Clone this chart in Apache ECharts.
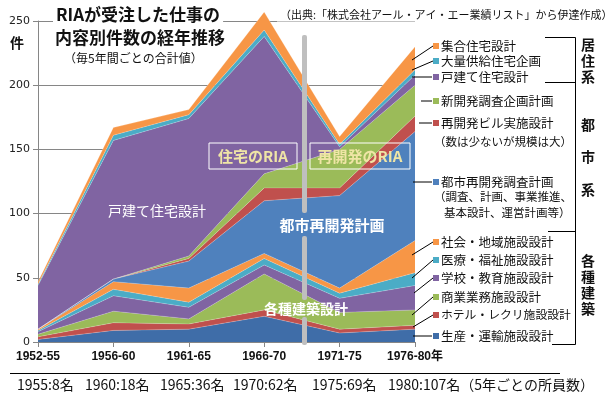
<!DOCTYPE html>
<html lang="ja">
<head>
<meta charset="UTF-8">
<title>RIAが受注した仕事の内容別件数の経年推移</title>
<script src="https://cdn.jsdelivr.net/npm/echarts@6/dist/echarts.min.js"></script>
<style>
  html, body { margin: 0; padding: 0; background: #fff; }
  #main { width: 607px; height: 398px; }
</style>
</head>
<body>
<div id="main"></div>
<script>
// 期間
var categories = ['1952-55', '1956-60', '1961-65', '1966-70', '1971-75', '1976-80年'];
// 各種建築（下から）
var seisan = [2, 9, 10, 20, 7, 10];        // 生産・運輸施設設計
var hotel = [2, 6, 4, 5, 3, 3];            // ホテル・レクリ施設設計
var shogyo = [2, 9, 4, 28, 13, 12];        // 商業業務施設設計
var gakko = [2, 12, 9, 7, 11, 19];         // 学校・教育施設設計
var iryo = [1, 5, 4, 5, 4, 10];            // 医療・福祉施設設計
var shakai = [1, 6, 11, 4, 4, 25];         // 社会・地域施設設計
// 都市系
var toshi = [0, 2, 21, 41, 72, 85];        // 都市再開発調査計画
var saikaihatsu = [0, 0, 2, 10, 6, 12];    // 再開発ビル実施設計
var shinkaihatsu = [0, 0, 2, 11, 30, 24];  // 新開発調査企画計画
// 居住系
var kodate = [34, 108, 107, 107, 2, 8];    // 戸建て住宅設計
var tairyo = [1, 4, 3, 5, 2, 4];           // 大量供給住宅企画
var shugo = [2, 6, 4, 14, 6, 18];          // 集合住宅設計

// 5年ごとの所員数
var staffLabels = ['1955:8名', '1960:18名', '1965:36名', '1970:62名', '1975:69名', '1980:107名（5年ごとの所員数）'];

var C = {
  dblue: '#3F6DA8', blue: '#4F81BD', red: '#C0504D', green: '#9BBB59',
  purple: '#8064A2', teal: '#4BACC6', orange: '#F79646'
};

var seriesDefs = [
  ['生産・運輸施設設計', seisan, C.dblue],
  ['ホテル・レクリ施設設計', hotel, C.red],
  ['商業業務施設設計', shogyo, C.green],
  ['学校・教育施設設計', gakko, C.purple],
  ['医療・福祉施設設計', iryo, C.teal],
  ['社会・地域施設設計', shakai, C.orange],
  ['都市再開発調査計画', toshi, C.blue],
  ['再開発ビル実施設計', saikaihatsu, C.red],
  ['新開発調査企画計画', shinkaihatsu, C.green],
  ['戸建て住宅設計', kodate, C.purple],
  ['大量供給住宅企画', tairyo, C.teal],
  ['集合住宅設計', shugo, C.orange]
];

var FONT = '"Noto Sans CJK JP", "Noto Sans", sans-serif';

function txt(x, y, text, opt) {
  opt = opt || {};
  return {
    type: 'text', x: x, y: y, z: opt.z || 20,
    style: {
      text: text,
      font: (opt.weight || 'normal') + ' ' + (opt.size || 13) + 'px ' + FONT,
      fill: opt.color || '#111',
      align: opt.align || 'left',
      verticalAlign: 'middle',
      backgroundColor: opt.bg,
      padding: opt.bg ? [1, 3] : 0
    }
  };
}
function line(x1, y1, x2, y2) {
  return { type: 'line', z: 20, shape: { x1: x1, y1: y1, x2: x2, y2: y2 },
    style: { stroke: '#000', lineWidth: 1 } };
}
function legendItem(y, color, label, size) {
  return [
    { type: 'rect', z: 20, shape: { x: 433, y: y - 3, width: 6, height: 6 }, style: { fill: color } },
    txt(441, y, label, { size: size || 12.5 })
  ];
}
function boxLabel(x, y, w, h, text) {
  return [
    { type: 'rect', z: 15, shape: { x: x, y: y, width: w, height: h }, style: { fill: 'none', stroke: '#fff', lineWidth: 1 } },
    txt(x + w / 2, y + h / 2, text, { align: 'center', weight: 'bold', size: 15, color: '#EFE5A6' })
  ];
}

var graphics = [];
// タイトル
graphics.push(txt(53, 15, 'RIAが受注した仕事の', { weight: 'bold', size: 17, bg: '#fff', z: 25 }));
graphics.push(txt(55, 38, '内容別件数の経年推移', { weight: 'bold', size: 17, z: 25 }));
graphics.push(txt(64, 58, '（毎5年間ごとの合計値）', { size: 12 }));
graphics.push(txt(277, 15, '（出典:「株式会社アール・アイ・エー業績リスト」から伊達作成）', { size: 11, bg: '#fff' }));
graphics.push(txt(17, 43, '件', { weight: 'bold', size: 14, align: 'center' }));

// 区切りの灰色の帯
[[35, 213], [236, 300], [317, 345]].forEach(function (s) {
  graphics.push({ type: 'rect', z: 12, shape: { x: 302, y: s[0], width: 5, height: s[1] - s[0], r: 2 },
    style: { fill: '#BFBFBF' } });
});

// グラフ内ラベル
graphics = graphics.concat(boxLabel(209, 143, 88, 26, '住宅のRIA'));
graphics = graphics.concat(boxLabel(310, 143, 100, 26, '再開発のRIA'));
graphics.push(txt(157, 211, '戸建て住宅設計', { size: 14, color: '#fff', align: 'center' }));
graphics.push(txt(332, 225, '都市再開発計画', { size: 15, weight: 'bold', color: '#fff', align: 'center' }));
graphics.push(txt(306, 309, '各種建築設計', { size: 14, weight: 'bold', color: '#fff', align: 'center' }));

// 右側の凡例
var legendRows = [
  [46, C.orange, '集合住宅設計'],
  [61, C.teal, '大量供給住宅企画'],
  [77, C.purple, '戸建て住宅設計'],
  [101, C.green, '新開発調査企画計画'],
  [123, C.red, '再開発ビル実施設計'],
  [182, C.blue, '都市再開発調査計画'],
  [242, C.orange, '社会・地域施設設計'],
  [260, C.teal, '医療・福祉施設設計'],
  [278, C.purple, '学校・教育施設設計'],
  [297, C.green, '商業業務施設設計'],
  [315, C.red, 'ホテル・レクリ施設設計', 11.8],
  [336, C.dblue, '生産・運輸施設設計']
];
legendRows.forEach(function (r) { graphics = graphics.concat(legendItem(r[0], r[1], r[2], r[3])); });
graphics.push(txt(434, 142, '（数は少ないが規模は大）', { size: 11.5 }));
graphics.push(txt(434, 197, '（調査、計画、事業推進、', { size: 11.5 }));
graphics.push(txt(444, 213, '基本設計、運営計画等）', { size: 11.5 }));

// 引き出し線
[
  [412, 60, 433, 46], [412, 70, 433, 61], [412, 77, 432, 77],
  [421, 101, 432, 101], [419, 123, 432, 123], [413, 182, 432, 182],
  [412, 255, 433, 242], [412, 278, 433, 260], [414, 293, 433, 278],
  [412, 315, 433, 297], [413, 327, 433, 315], [413, 336, 432, 336]
].forEach(function (l) { graphics.push(line(l[0], l[1], l[2], l[3])); });

// 括弧
graphics.push(line(545, 37.5, 575.5, 37.5));
graphics.push(line(575.5, 37.5, 575.5, 344.5));
graphics.push(line(545, 82.5, 575.5, 82.5));
graphics.push(line(548, 231.5, 575.5, 231.5));
graphics.push(line(552, 344.5, 575.5, 344.5));
[['居', 45], ['住', 61], ['系', 77], ['都', 125], ['市', 157], ['系', 190],
 ['各', 261], ['種', 277], ['建', 293], ['築', 309]].forEach(function (g) {
  graphics.push(txt(588, g[1], g[0], { weight: 'bold', size: 14, align: 'center' }));
});

// 下部の所員数
graphics.push(line(10, 373.5, 560, 373.5));
var staffX = [17, 85, 160, 233, 312, 388];
staffLabels.forEach(function (s, i) {
  graphics.push(txt(staffX[i], 385, s, { size: 14 }));
});

var chart = echarts.init(document.getElementById('main'));
chart.setOption({
  animation: false,
  backgroundColor: '#fff',
  grid: { left: 38, right: 192, top: 21, bottom: 56 },
  xAxis: {
    type: 'category', data: categories, boundaryGap: false,
    axisLine: { lineStyle: { color: '#868686' } },
    axisTick: { show: true, length: 5, lineStyle: { color: '#868686' } },
    axisLabel: { color: '#111', fontWeight: 'bold', fontSize: 12, margin: 9,
      fontFamily: '"Liberation Sans", "Noto Sans CJK JP", sans-serif' }
  },
  yAxis: {
    type: 'value', min: 0, max: 250, interval: 50,
    axisLine: { show: true, lineStyle: { color: '#868686' } },
    axisTick: { show: true, length: 5, lineStyle: { color: '#868686' } },
    axisLabel: { color: '#222', fontSize: 11, margin: 8, fontFamily: '"DejaVu Sans", sans-serif' },
    splitLine: { lineStyle: { color: '#868686' } }
  },
  series: seriesDefs.map(function (d) {
    return {
      name: d[0], type: 'line', stack: 'total', data: d[1],
      symbol: 'none', clip: false,
      lineStyle: { width: 0.6, color: 'rgba(255,255,255,0.35)' },
      areaStyle: { color: d[2], opacity: 1 },
      itemStyle: { color: d[2] }
    };
  }),
  graphic: graphics
});
</script>
</body>
</html>
